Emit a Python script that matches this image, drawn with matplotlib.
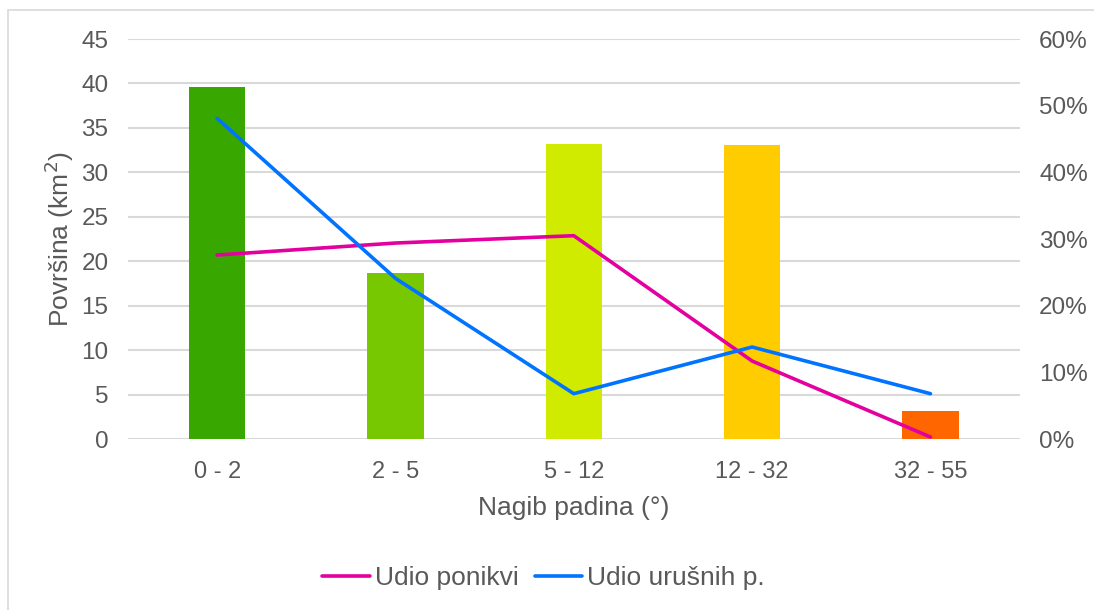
import matplotlib.pyplot as plt
from matplotlib.patches import Rectangle
from matplotlib.ticker import FuncFormatter

# data
categories = ['0 - 2', '2 - 5', '5 - 12', '12 - 32', '32 - 55']
povrsina = [39.6, 18.7, 33.2, 33.1, 3.2]
udio_ponikvi = [27.6, 29.4, 30.5, 11.7, 0.3]
udio_urusnih = [48.1, 24.1, 6.8, 13.8, 6.8]
bar_colors = ['#38a800', '#77c800', '#d0eb00', '#ffcc00', '#ff6600']

plt.rcParams['font.family'] = ['Liberation Sans', 'DejaVu Sans']
txt = '#595959'

fig = plt.figure(figsize=(10.94, 6.10), dpi=100)
fig.patches.append(Rectangle((8 / 1094, -0.1), 1.2, 1 - 10 / 610 + 0.1,
                             transform=fig.transFigure, fill=False,
                             edgecolor='#d9d9d9', linewidth=1.2))

ax = fig.add_axes([0.117, 0.2803, 0.815, 0.6557])
x = range(len(categories))
ax.bar(x, povrsina, width=0.315, color=bar_colors, zorder=2)
ax.set_ylim(0, 45)
ax.set_yticks(range(0, 50, 5))
ax.set_xlim(-0.5, len(categories) - 0.5)
ax.set_xticks(list(x))
ax.set_xticklabels(categories)
ax.grid(axis='y', color='#d9d9d9', linewidth=1.5, zorder=0)
ax.set_axisbelow(True)
for s in ax.spines.values():
    s.set_visible(False)
ax.tick_params(length=0, labelsize=17.5, labelcolor=txt, pad=14)
ax.tick_params(axis='x', pad=16, labelsize=17)
ax.set_ylabel('Površina (km$^2$)', fontsize=19, color=txt, labelpad=4)
ax.set_xlabel('Nagib padina (°)', fontsize=19, color=txt, labelpad=9)

ax2 = ax.twinx()
l1, = ax2.plot(x, udio_ponikvi, color='#e3009f', linewidth=2.6,
               solid_capstyle='round', label='Udio ponikvi', zorder=3)
l2, = ax2.plot(x, udio_urusnih, color='#0073ff', linewidth=2.6,
               solid_capstyle='round', label='Udio urušnih p.', zorder=3)
ax2.set_ylim(0, 60)
ax2.set_yticks(range(0, 70, 10))
ax2.yaxis.set_major_formatter(FuncFormatter(lambda v, p: '%d%%' % v))
for s in ax2.spines.values():
    s.set_visible(False)
ax2.tick_params(length=0, labelsize=17.5, labelcolor=txt, pad=14)

fig.legend(handles=[l1, l2], loc='center', bbox_to_anchor=(0.497, 0.052),
           ncol=2, frameon=False, fontsize=19, labelcolor=txt,
           handlelength=1.8, handletextpad=0.2, columnspacing=0.6)

fig.savefig('out.png', dpi=100)
